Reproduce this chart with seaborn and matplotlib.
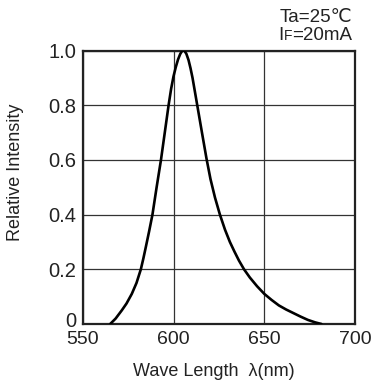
import matplotlib
matplotlib.use("Agg")
import matplotlib.pyplot as plt
import matplotlib.transforms as mtransforms
import seaborn as sns
import pandas as pd

# Data
wavelength = [565.0, 568.0, 571.4, 574.0, 576.9, 579.5, 581.9, 583.3, 584.6, 586.5,
              588.3, 590.6, 593.0, 595.1, 597.2, 598.6, 599.9, 601.2, 602.4, 603.6,
              604.6, 605.3, 606.0, 607.0, 608.2, 609.3, 610.4, 611.7, 613.0, 615.6,
              618.1, 620.3, 622.8, 625.5, 628.3, 631.0, 633.5, 636.0, 638.8, 642.0,
              646.0, 650.0, 654.0, 658.0, 662.0, 666.0, 670.0, 674.0, 678.0, 681.5]
intensity = [0.0, 0.02, 0.05, 0.075, 0.11, 0.15, 0.2, 0.24, 0.28, 0.34,
             0.4, 0.5, 0.6, 0.7, 0.8, 0.86, 0.905, 0.94, 0.967, 0.987,
             0.998, 1.0, 0.998, 0.988, 0.965, 0.935, 0.9, 0.85, 0.8, 0.7,
             0.605, 0.53, 0.462, 0.4, 0.345, 0.3, 0.265, 0.232, 0.2, 0.17,
             0.138, 0.11, 0.088, 0.068, 0.053, 0.04, 0.027, 0.015, 0.006, 0.0]
x_ticks = [550, 600, 650, 700]
x_tick_labels = ["550", "600", "650", "700"]
y_ticks = [0, 0.2, 0.4, 0.6, 0.8, 1.0]
y_tick_labels = ["0", "0.2", "0.4", "0.6", "0.8", "1.0"]

sns.set_theme(style="white")
plt.rcParams['font.family'] = ['Liberation Sans', 'DejaVu Sans']

df = pd.DataFrame({"wl": wavelength, "I": intensity})

fig = plt.figure(figsize=(3.75, 3.85), dpi=100)
ax = fig.add_axes([83/375, 1 - 324/385, (355-83)/375, (324-50.5)/385])

sns.lineplot(data=df, x="wl", y="I", ax=ax, color="black", linewidth=1.9, zorder=3)

ax.set_xlim(550, 700)
ax.set_ylim(0, 1.0)
ax.set_xticks(x_ticks)
ax.set_xticklabels(x_tick_labels, fontsize=14)
ax.set_yticks(y_ticks)
ax.set_yticklabels(y_tick_labels, fontsize=14.5)
ax.tick_params(axis='both', length=0, colors='#222222')
ax.tick_params(axis='x', pad=5)
ax.tick_params(axis='y', pad=5)

# nudge the "0" label up a little, as in the reference
lbl0 = ax.get_yticklabels()[0]
lbl0.set_transform(lbl0.get_transform() + mtransforms.ScaledTranslation(0, 3/72, fig.dpi_scale_trans))

ax.grid(True, color='#333333', linewidth=0.9)
ax.set_axisbelow(True)
for s in ax.spines.values():
    s.set_color('#222222')
    s.set_linewidth(1.6)
    s.set_visible(True)

ax.set_xlabel("Wave Length  λ(nm)", fontsize=13, color='#222222')
ax.xaxis.label.set_va('center')
ax.xaxis.set_label_coords((213.5 - 83) / 272, (324 - 371) / 273.5)
ax.set_ylabel("Relative Intensity", fontsize=13, color='#222222')
ax.yaxis.label.set_va('center')
ax.yaxis.set_label_coords((16 - 83) / 272, (324 - 172) / 273.5)

fig.text(352/375, 1 - 22/385, "Ta=25℃", ha='right', va='baseline', fontsize=13.5, color='#222222')
# "IF=20mA" with small F
t_main = fig.text(352/375, 1 - 40/385, "=20mA", ha='right', va='baseline', fontsize=13.5, color='#222222')
fig.canvas.draw()
r = fig.canvas.get_renderer()
bb = t_main.get_window_extent(r)
t_f = fig.text(bb.x0 / fig.bbox.width, 1 - 40/385, "F", ha='right', va='baseline', fontsize=10, color='#222222')
bb2 = t_f.get_window_extent(r)
fig.text(bb2.x0 / fig.bbox.width, 1 - 40/385, "I", ha='right', va='baseline', fontsize=13.5, color='#222222')

fig.savefig("out.png", dpi=100)
